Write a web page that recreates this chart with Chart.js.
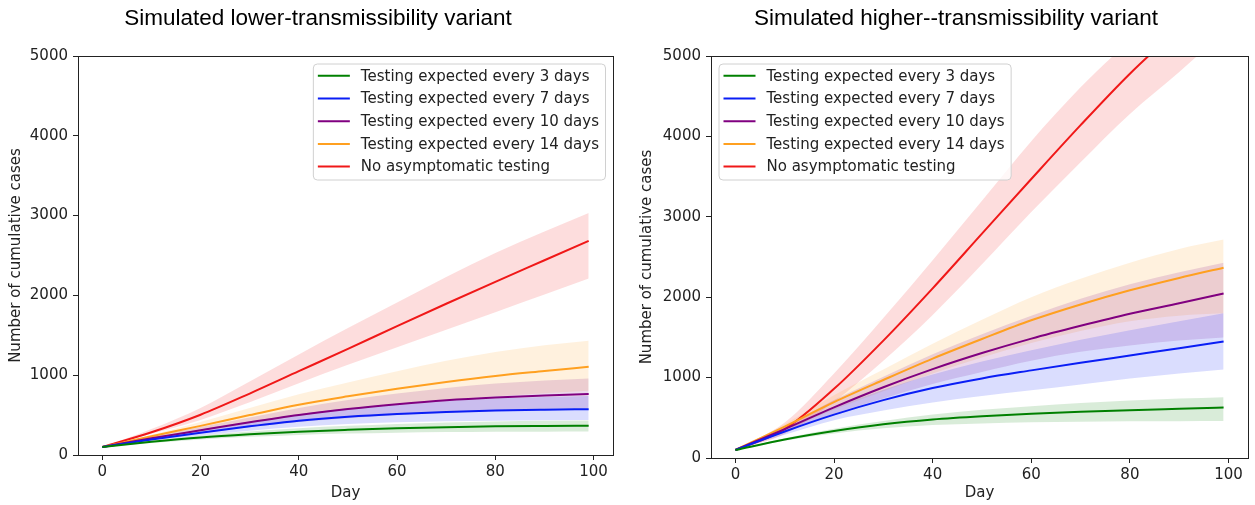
<!DOCTYPE html>
<html><head><meta charset="utf-8">
<script src="https://cdn.jsdelivr.net/npm/chart.js@4.4.1/dist/chart.umd.min.js"></script>
<style>
html,body{margin:0;padding:0;background:#fff;overflow:hidden;width:1255px;height:505px}
.p{position:absolute;top:0}
</style></head>
<body>
<div class="p" style="left:0px"><canvas id="c1" width="636" height="505"></canvas></div>
<div class="p" style="left:630px"><canvas id="c2" width="652" height="505"></canvas></div>
<script>
// ---------- data ----------
const days = [0, 10, 20, 30, 40, 50, 60, 70, 80, 90, 99];
const xTicks = [0, 20, 40, 60, 80, 100];
const yTicks = [0, 1000, 2000, 3000, 4000, 5000];
const seriesLabels = [
  'Testing expected every 3 days',
  'Testing expected every 7 days',
  'Testing expected every 10 days',
  'Testing expected every 14 days',
  'No asymptomatic testing'
];
const titles = ['Simulated lower-transmissibility variant', 'Simulated higher--transmissibility variant'];

// lower-transmissibility panel
const lowGreen    = [100, 165, 220, 260, 292, 315, 334, 348, 359, 364, 367];
const lowGreenHi  = [100, 180, 245, 295, 335, 365, 390, 408, 420, 428, 432];
const lowGreenLo  = [100, 150, 195, 228, 252, 268, 280, 287, 291, 292, 293];
const lowBlue     = [100, 195, 280, 360, 430, 480, 515, 540, 558, 568, 574];
const lowBlueHi   = [100, 215, 320, 420, 510, 585, 640, 680, 710, 728, 740];
const lowBlueLo   = [100, 178, 245, 305, 355, 390, 410, 422, 430, 435, 440];
const lowPurple   = [100, 210, 310, 410, 501, 575, 635, 685, 720, 745, 764];
const lowPurpleHi = [100, 228, 350, 470, 590, 690, 770, 840, 895, 935, 960];
const lowPurpleLo = [100, 192, 272, 348, 415, 462, 500, 530, 555, 575, 590];
const lowOrange   = [100, 235, 365, 500, 630, 735, 830, 915, 990, 1052, 1106];
const lowOrangeHi = [100, 255, 415, 590, 760, 910, 1050, 1180, 1290, 1375, 1431];
const lowOrangeLo = [100, 215, 310, 410, 505, 575, 635, 690, 735, 775, 805];
const lowRed      = [100, 285, 505, 770, 1050, 1330, 1615, 1895, 2170, 2440, 2683];
const lowRedHi    = [100, 325, 590, 920, 1260, 1590, 1910, 2230, 2530, 2800, 3034];
const lowRedLo    = [100, 265, 440, 660, 900, 1130, 1350, 1570, 1790, 2010, 2212];

// higher-transmissibility panel
const highGreen    = [100, 230, 335, 420, 480, 520, 550, 575, 595, 612, 627];
const highGreenHi  = [100, 245, 365, 460, 540, 600, 645, 685, 715, 740, 757];
const highGreenLo  = [100, 215, 305, 370, 410, 430, 445, 452, 456, 458, 460];
const highBlue     = [100, 330, 540, 720, 870, 990, 1090, 1185, 1275, 1365, 1450];
const highBlueHi   = [100, 350, 620, 850, 1040, 1200, 1340, 1470, 1590, 1700, 1800];
const highBlueLo   = [100, 290, 470, 590, 690, 770, 842, 915, 988, 1050, 1100];
const highPurple   = [100, 360, 630, 880, 1105, 1305, 1485, 1645, 1795, 1925, 2045];
const highPurpleHi = [100, 390, 720, 1010, 1290, 1540, 1770, 1980, 2160, 2310, 2430];
const highPurpleLo = [100, 320, 550, 740, 920, 1070, 1210, 1320, 1400, 1460, 1500];
const highOrange   = [100, 390, 695, 970, 1236, 1480, 1713, 1910, 2086, 2240, 2367];
const highOrangeHi = [100, 420, 780, 1100, 1420, 1720, 2000, 2230, 2430, 2600, 2717];
const highOrangeLo = [100, 350, 600, 830, 1050, 1250, 1430, 1580, 1700, 1770, 1800];
const highRed      = [100, 360, 860, 1460, 2110, 2790, 3470, 4140, 4780, 5350, 5850];
const highRedHi    = [100, 440, 1050, 1740, 2460, 3200, 3940, 4610, 5200, 5800, 6300];
const highRedLo    = [100, 300, 700, 1210, 1780, 2410, 3060, 3680, 4280, 4800, 5300];

// ---------- styles ----------
const lineColors = ['#008000', '#0a1ef5', '#800080', '#ffa020', '#f01818'];
const bandColors = ['rgba(0,128,0,0.15)', 'rgba(10,30,245,0.15)', 'rgba(128,0,128,0.15)', 'rgba(255,160,32,0.15)', 'rgba(240,24,24,0.15)'];
const FONT = {family: "'DejaVu Sans', sans-serif", size: 15};
const TXT = '#222';

Chart.defaults.font.family = "'DejaVu Sans', sans-serif";
Chart.defaults.devicePixelRatio = 1;

function pts(arr) { return days.map((d, i) => ({x: d, y: arr[i]})); }

function buildDatasets(series) {
  const ds = [];
  series.forEach((s, i) => {
    ds.push({label: '_hi' + i, data: pts(s.hi), borderWidth: 0, pointRadius: 0, fill: '+1',
             backgroundColor: bandColors[i], borderColor: 'rgba(0,0,0,0)', cubicInterpolationMode: 'monotone', order: 2});
    ds.push({label: '_lo' + i, data: pts(s.lo), borderWidth: 0, pointRadius: 0, fill: false,
             borderColor: 'rgba(0,0,0,0)', cubicInterpolationMode: 'monotone', order: 2});
  });
  series.forEach((s, i) => {
    ds.push({label: seriesLabels[i], data: pts(s.mid), borderWidth: 2, pointRadius: 0, fill: false,
             borderColor: lineColors[i], cubicInterpolationMode: 'monotone', order: 1});
  });
  return ds;
}

const framePlugin = {
  id: 'frame',
  afterDatasetsDraw(chart) {
    const a = chart.chartArea, ctx = chart.ctx;
    ctx.save();
    ctx.strokeStyle = '#222'; ctx.lineWidth = 1;
    ctx.strokeRect(Math.round(a.left) + 0.5, Math.round(a.top) + 0.5, Math.round(a.right - a.left), Math.round(a.bottom - a.top));
    ctx.restore();
  }
};

const mplLegend = {
  id: 'mplLegend',
  afterDraw(chart, args, opts) {
    const a = chart.chartArea, ctx = chart.ctx;
    ctx.save();
    ctx.font = '15px "DejaVu Sans"';
    let maxW = 0;
    seriesLabels.forEach(t => { maxW = Math.max(maxW, ctx.measureText(t).width); });
    const w = 48 + maxW + 6, h = 116;
    const left = opts.side === 'right' ? a.right - 8 - w : a.left + 7.5;
    const top = a.top + 7.5;
    ctx.beginPath();
    ctx.roundRect(left + 0.5, top + 0.5, w, h, 4);
    ctx.fillStyle = 'rgba(255,255,255,0.8)';
    ctx.fill();
    ctx.strokeStyle = '#d0d0d0'; ctx.lineWidth = 1;
    ctx.stroke();
    seriesLabels.forEach((t, i) => {
      const y = top + 12.3 + i * 22.7;
      ctx.strokeStyle = lineColors[i]; ctx.lineWidth = 2;
      ctx.beginPath(); ctx.moveTo(left + 5, y); ctx.lineTo(left + 37, y); ctx.stroke();
      ctx.fillStyle = TXT; ctx.textBaseline = 'middle'; ctx.textAlign = 'left';
      ctx.fillText(t, left + 48, y + 1);
    });
    ctx.restore();
  }
};

function makeChart(id, title, series, cfg) {
  return new Chart(document.getElementById(id), {
    type: 'line',
    data: {datasets: buildDatasets(series)},
    plugins: [framePlugin, mplLegend],
    options: {
      responsive: false, animation: false, devicePixelRatio: 1,
      layout: {padding: 0},
      plugins: {
        legend: {display: false}, tooltip: {enabled: false},
        title: {display: true, text: title, color: '#000',
                font: {family: "'Liberation Sans', Arial, sans-serif", size: 22.5, weight: 'normal'},
                padding: {top: 5, bottom: cfg.titleBottom}},
        mplLegend: {side: cfg.legendSide}
      },
      scales: {
        x: {type: 'linear', min: -4.95, max: 103.95,
            afterBuildTicks: s => { s.ticks = xTicks.map(v => ({value: v})); },
            afterFit: s => { s.height = cfg.xh; },
            grid: {drawOnChartArea: false, drawTicks: true, tickLength: 5, color: '#222'},
            border: {display: true, color: '#222'},
            ticks: {font: FONT, color: TXT, padding: 3, maxRotation: 0, autoSkip: false, callback: v => String(v)},
            title: {display: true, text: 'Day', font: FONT, color: TXT, padding: {top: 0, bottom: 3}}},
        y: {type: 'linear', min: 0, max: 5000,
            afterBuildTicks: s => { s.ticks = yTicks.map(v => ({value: v})); },
            afterFit: s => { s.width = cfg.yw; },
            grid: {drawOnChartArea: false, drawTicks: true, tickLength: 5, color: '#222'},
            border: {display: true, color: '#222'},
            ticks: {font: FONT, color: TXT, padding: 5, autoSkip: false, callback: v => String(v)},
            title: {display: true, text: 'Number of cumulative cases', font: FONT, color: TXT, padding: {top: cfg.ytp, bottom: 0}}},
        r: {type: 'linear', position: 'right', display: true,
            grid: {display: false}, ticks: {display: false}, border: {display: false},
            afterFit: s => { s.width = cfg.rw; }}
      }
    }
  });
}

makeChart('c1', titles[0], [
  {mid: lowGreen, hi: lowGreenHi, lo: lowGreenLo},
  {mid: lowBlue, hi: lowBlueHi, lo: lowBlueLo},
  {mid: lowPurple, hi: lowPurpleHi, lo: lowPurpleLo},
  {mid: lowOrange, hi: lowOrangeHi, lo: lowOrangeLo},
  {mid: lowRed, hi: lowRedHi, lo: lowRedLo}
], {yw: 78, rw: 23, xh: 50, ytp: 7, titleBottom: 24, legendSide: 'right'});

makeChart('c2', titles[1], [
  {mid: highGreen, hi: highGreenHi, lo: highGreenLo},
  {mid: highBlue, hi: highBlueHi, lo: highBlueLo},
  {mid: highPurple, hi: highPurpleHi, lo: highPurpleLo},
  {mid: highOrange, hi: highOrangeHi, lo: highOrangeLo},
  {mid: highRed, hi: highRedHi, lo: highRedLo}
], {yw: 81, rw: 34, xh: 47, ytp: 8, titleBottom: 24, legendSide: 'left'});
</script>
</body></html>
